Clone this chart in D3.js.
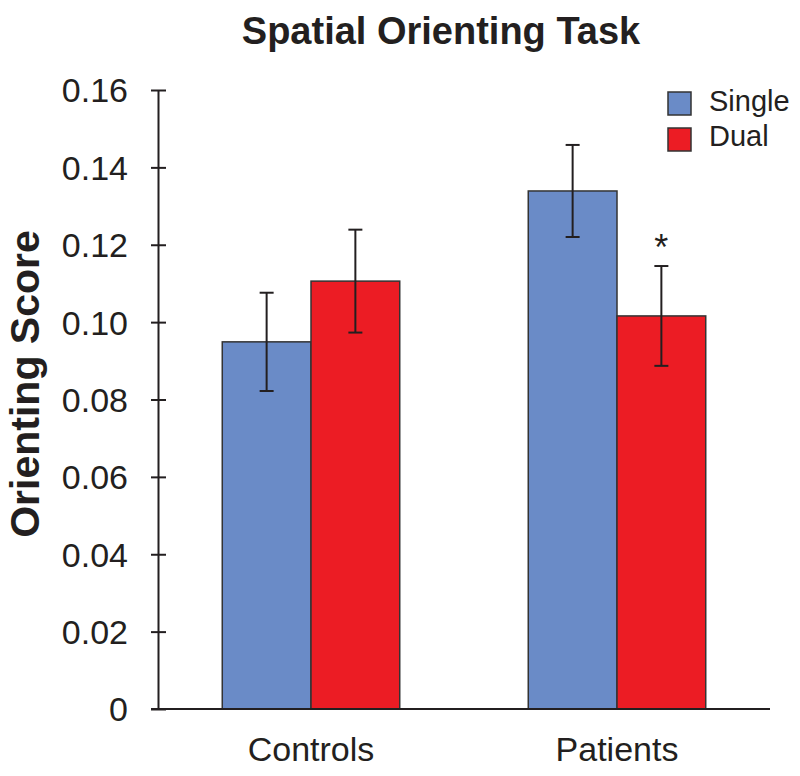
<!DOCTYPE html>
<html>
<head>
<meta charset="utf-8">
<script src="https://cdn.jsdelivr.net/npm/d3@7"></script>
<style>
  body { margin: 0; background: #fff; }
  text { font-family: "Liberation Sans", Arial, sans-serif; fill: #231f20; }
</style>
</head>
<body>
<div id="chart"></div>
<script>
const groups = ["Controls", "Patients"];
const series = ["Single", "Dual"];
const single = [0.0949, 0.1339];
const dual = [0.1106, 0.1016];
const singleErr = [0.0127, 0.0119];
const dualErr = [0.0133, 0.0129];
const yTicks = [0, 0.02, 0.04, 0.06, 0.08, 0.10, 0.12, 0.14, 0.16];
const yTickLabels = ["0", "0.02", "0.04", "0.06", "0.08", "0.10", "0.12", "0.14", "0.16"];
const sigMarks = [["Patients", "Dual"]];

const width = 800, height = 776;
const colors = { Single: "#6a8bc7", Dual: "#ec1c24" };

const svg = d3.select("#chart").append("svg")
  .attr("width", width)
  .attr("height", height);

const y = d3.scaleLinear().domain([0, 0.16]).range([709, 90]);
const x = d3.scaleBand().domain(groups).range([158, 770]).paddingInner(0.42).paddingOuter(0.21);
const xs = d3.scaleBand().domain(series).range([0, x.bandwidth()]);

// build rows from the arrays
const rows = [];
groups.forEach((g, i) => {
  rows.push({ group: g, s: "Single", v: single[i], e: singleErr[i] });
  rows.push({ group: g, s: "Dual", v: dual[i], e: dualErr[i] });
});

// title
svg.append("text")
  .attr("x", 441).attr("y", 44)
  .attr("text-anchor", "middle")
  .style("font-size", "38px").style("font-weight", "bold")
  .text("Spatial Orienting Task");

// y axis
const yAxis = svg.append("g")
  .attr("transform", "translate(158,0)")
  .call(d3.axisLeft(y).tickValues(yTicks).tickSize(0).tickFormat((d, i) => yTickLabels[i]).tickPadding(30));
yAxis.select(".domain").attr("stroke", "#231f20").attr("stroke-width", 2);
yAxis.selectAll(".tick text").style("font-size", "34px").attr("dy", "0.35em");
yAxis.selectAll(".tick").append("line")
  .attr("x1", -7).attr("x2", 8)
  .attr("stroke", "#231f20").attr("stroke-width", 2);

// y label
svg.append("text")
  .attr("transform", "translate(39,384) rotate(-90)")
  .attr("text-anchor", "middle")
  .style("font-size", "41px").style("font-weight", "bold")
  .text("Orienting Score");

// bars
svg.append("g").selectAll("rect")
  .data(rows)
  .enter().append("rect")
    .attr("x", d => x(d.group) + xs(d.s))
    .attr("y", d => y(d.v))
    .attr("width", xs.bandwidth())
    .attr("height", d => y(0) - y(d.v))
    .attr("fill", d => colors[d.s])
    .attr("stroke", "#333")
    .attr("stroke-width", 1.5);

// error bars
const eb = svg.append("g").attr("stroke", "#231f20").attr("stroke-width", 2);
rows.forEach(d => {
  const cx = x(d.group) + xs(d.s) + xs.bandwidth() / 2;
  eb.append("line").attr("x1", cx).attr("x2", cx).attr("y1", y(d.v + d.e)).attr("y2", y(d.v - d.e));
  eb.append("line").attr("x1", cx - 7).attr("x2", cx + 7).attr("y1", y(d.v + d.e)).attr("y2", y(d.v + d.e));
  eb.append("line").attr("x1", cx - 7).attr("x2", cx + 7).attr("y1", y(d.v - d.e)).attr("y2", y(d.v - d.e));
});

// significance star
sigMarks.forEach(m => {
  const d = rows.find(r => r.group === m[0] && r.s === m[1]);
  svg.append("text")
    .attr("x", x(d.group) + xs(d.s) + xs.bandwidth() / 2)
    .attr("y", y(d.v + d.e) - 6)
    .attr("text-anchor", "middle")
    .style("font-size", "36px")
    .text("*");
});

// x axis
const xAxis = svg.append("g")
  .attr("transform", "translate(0,709)")
  .call(d3.axisBottom(x).tickSize(0).tickPadding(28));
xAxis.select(".domain").attr("stroke", "#231f20").attr("stroke-width", 2).attr("d", "M151,0H770");
xAxis.selectAll(".tick text").style("font-size", "34px").attr("dy", "0.71em");

// legend
const legend = svg.append("g");
legend.selectAll("rect")
  .data(series)
  .enter().append("rect")
    .attr("x", 668)
    .attr("y", (d, i) => 92 + i * 36)
    .attr("width", 23).attr("height", 23)
    .attr("fill", d => colors[d])
    .attr("stroke", "#333").attr("stroke-width", 1.5);
legend.selectAll("text")
  .data(series)
  .enter().append("text")
    .attr("x", 709)
    .attr("y", (d, i) => 111 + i * 35)
    .style("font-size", "29px")
    .text(d => d);
</script>
</body>
</html>
